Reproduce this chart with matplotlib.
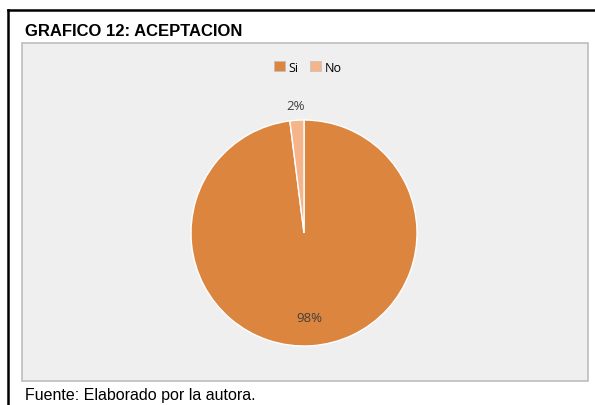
import matplotlib
matplotlib.use("Agg")
import matplotlib.pyplot as plt
import numpy as np
from matplotlib.patches import Rectangle
from matplotlib.lines import Line2D

title = "GRAFICO 12: ACEPTACION"
categories = ["Si", "No"]
values = [98, 2]
colors = ["#db853f", "#f6b48a"]
source = "Fuente: Elaborado por la autora."

W, H = 595, 406
fig = plt.figure(figsize=(W / 100, H / 100), dpi=100)
fig.patch.set_facecolor("white")

def fx(x):
    return x / W

def fy(y):
    return 1 - y / H

# outer black frame (left and top)
fig.add_artist(Line2D([fx(8), fx(8)], [fy(11), 0], color="black", lw=1.8, transform=fig.transFigure))
fig.add_artist(Line2D([fx(8), 1], [fy(11), fy(11)], color="black", lw=1.8, transform=fig.transFigure))

# inner grey panel
fig.add_artist(Rectangle((fx(22), fy(382)), fx(588) - fx(22), fy(44) - fy(382),
                         facecolor="#efefef", edgecolor="#bdbdbd", lw=1.2,
                         transform=fig.transFigure, zorder=0))

fig.text(fx(25), fy(31), title, fontsize=12, fontweight="bold", family="Liberation Sans",
         va="center", ha="left")
fig.text(fx(25), fy(396), source, fontsize=11.5, family="Liberation Sans",
         va="center", ha="left")

cx, cy, r = 304, 234, 113
ax = fig.add_axes([fx(cx - r), fy(cy + r), 2 * r / W, 2 * r / H])
ax.set_facecolor("none")
wedges, _ = ax.pie(values, colors=colors, startangle=90, counterclock=False,
                   wedgeprops=dict(edgecolor="white", linewidth=1))
ax.set_xlim(-1, 1)
ax.set_ylim(-1, 1)
ax.set_aspect("equal")
ax.axis("off")

total = sum(values)
dists = [0.75, 1.13]
for w, v, d in zip(wedges, values, dists):
    ang = np.deg2rad((w.theta1 + w.theta2) / 2)
    ax.text(d * np.cos(ang), d * np.sin(ang), f"{round(100 * v / total)}%",
            ha="center", va="center", color="#404040",
            family="Open Sans", fontsize=9.5, clip_on=False)

handles = [Rectangle((0, 0), 1, 1, facecolor=c, edgecolor="#c0c0c0", lw=0.5) for c in colors]
fig.legend(handles, categories, loc="center", bbox_to_anchor=(fx(308), fy(68)),
           ncol=2, frameon=False, handlelength=0.9, handleheight=0.9,
           handletextpad=0.3, columnspacing=0.9, prop={"family": "Open Sans", "size": 9})

fig.savefig("out.png", dpi=100)
